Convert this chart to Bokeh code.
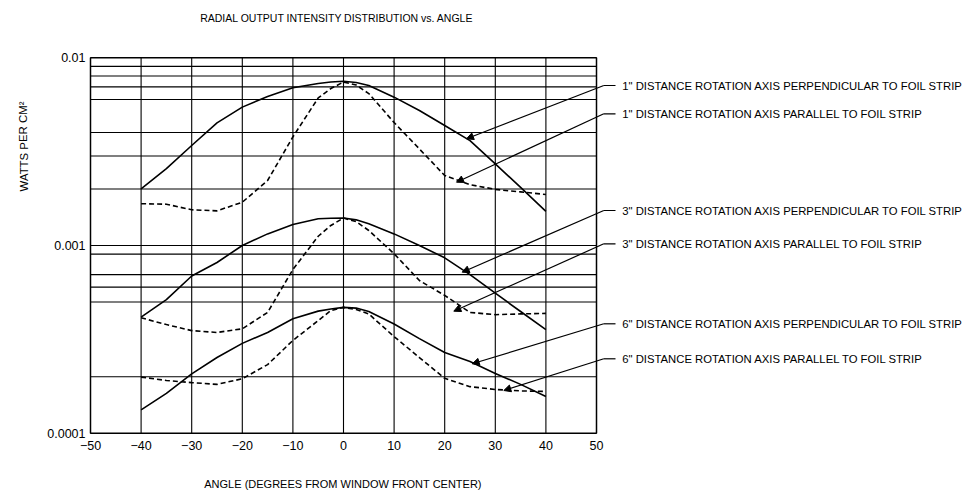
from bokeh.plotting import figure
from bokeh.models import Label, Arrow, NormalHead, Range1d
from bokeh.core.properties import value
from bokeh.embed import file_html
from bokeh.resources import INLINE

# ---------------- data ----------------
angles = [-40, -35, -30, -25, -20, -15, -10, -5, -2.5, 0, 2.5, 5, 10, 15, 20, 25, 30, 35, 40]

perp_1in = [0.00200, 0.00257, 0.00341, 0.00450, 0.00546, 0.00622, 0.00692, 0.00730, 0.00743, 0.00750,
            0.00739, 0.00712, 0.00617, 0.00524, 0.00436, 0.00362, 0.00272, 0.00204, 0.00152]
para_1in = [0.00167, 0.00166, 0.00155, 0.00153, 0.00170, 0.00222, 0.00379, 0.00611, 0.00686, 0.00743,
            0.00716, 0.00645, 0.00452, 0.00327, 0.00236, 0.00211, 0.00199, 0.00193, 0.00187]
perp_3in = [0.000415, 0.000515, 0.000688, 0.000812, 0.00100, 0.001153, 0.001294, 0.001388, 0.001396, 0.00140,
            0.00137, 0.001305, 0.001153, 0.00100, 0.000860, 0.000700, 0.000557, 0.000445, 0.000356]
para_3in = [0.000412, 0.000379, 0.000352, 0.000344, 0.000360, 0.000440, 0.000745, 0.00112, 0.001279, 0.00140,
            0.00134, 0.001202, 0.000904, 0.000651, 0.000542, 0.000440, 0.000428, 0.000432, 0.000435]
perp_6in = [0.000133, 0.000163, 0.000207, 0.000253, 0.000301, 0.000344, 0.000407, 0.000447, 0.000459, 0.000468,
            0.000464, 0.000445, 0.000382, 0.000319, 0.000269, 0.000241, 0.000208, 0.000182, 0.000157]
para_6in = [0.000199, 0.000191, 0.000186, 0.000182, 0.000195, 0.000232, 0.000312, 0.000398, 0.000450, 0.000468,
            0.000456, 0.000432, 0.000327, 0.000253, 0.000196, 0.000177, 0.000171, 0.000168, 0.000167]

x_ticks = [-50, -40, -30, -20, -10, 0, 10, 20, 30, 40, 50]
x_tick_labels = ["\u221250", "\u221240", "\u221230", "\u221220", "\u221210", "0", "10", "20", "30", "40", "50"]
y_ticks = [0.0001, 0.001, 0.01]
y_tick_labels = ["0.0001", "0.001", "0.01"]
y_grid = [0.0002, 0.0005, 0.0006, 0.0007, 0.0009, 0.001,
          0.002, 0.003, 0.004, 0.006, 0.007, 0.008, 0.009]

title_text = "RADIAL OUTPUT INTENSITY DISTRIBUTION vs. ANGLE"
x_label = "ANGLE (DEGREES FROM WINDOW FRONT CENTER)"
y_label = "WATTS PER CM\u00b2"
series_labels = [
    '1" DISTANCE ROTATION AXIS PERPENDICULAR TO FOIL STRIP',
    '1" DISTANCE ROTATION AXIS PARALLEL TO FOIL STRIP',
    '3" DISTANCE ROTATION AXIS PERPENDICULAR TO FOIL STRIP',
    '3" DISTANCE ROTATION AXIS PARALLEL TO FOIL STRIP',
    '6" DISTANCE ROTATION AXIS PERPENDICULAR TO FOIL STRIP',
    '6" DISTANCE ROTATION AXIS PARALLEL TO FOIL STRIP',
]

# ---------------- layout (pixels) ----------------
W, H = 967, 493
FX0, FX1 = 90.0, 596.0          # chart box left / right in canvas px
FY0, FY1 = 57.3, 432.7          # chart box top / bottom in canvas px
ppu = (FX1 - FX0) / (x_ticks[-1] - x_ticks[0])
ppd = (FY1 - FY0) / 2.0
x_lo = x_ticks[0] - FX0 / ppu
x_hi = x_ticks[-1] + (W - FX1) / ppu
y_hi = 10 ** (-2 + FY0 / ppd)
y_lo = 10 ** (-4 - (H - FY1) / ppd)

def yv(px):  # canvas px (from top) -> data value on the log axis
    return 10 ** (-2 - (px - FY0) / ppd)

def xv(px):
    return x_ticks[0] + (px - FX0) / ppu

FONT = "Liberation Sans"
p = figure(width=W, height=H, x_range=Range1d(x_lo, x_hi), y_range=Range1d(y_lo, y_hi),
           y_axis_type="log", x_axis_location=None, y_axis_location=None,
           min_border=0, output_backend="svg", toolbar_location=None,
           background_fill_color="white", border_fill_color="white")
p.outline_line_color = None
p.grid.visible = False

# grid lines
n = len(x_ticks) - 2
p.segment(x0=x_ticks[1:-1], y0=[y_ticks[0]] * n, x1=x_ticks[1:-1], y1=[y_ticks[-1]] * n,
          line_color="black", line_width=1.1)
m = len(y_grid)
p.segment(x0=[x_ticks[0]] * m, y0=y_grid, x1=[x_ticks[-1]] * m, y1=y_grid,
          line_color="black", line_width=1.1)
# frame
p.quad(left=x_ticks[0], right=x_ticks[-1], bottom=y_ticks[0], top=y_ticks[-1],
       fill_color=None, line_color="black", line_width=1.5)

# tick labels
p.text(x=x_ticks, y=[yv(FY1 + 12.5)] * len(x_ticks), text=x_tick_labels,
       text_font=value(FONT), text_font_size="12.5px", text_color="black",
       text_align="center", text_baseline="middle")
p.text(x=[xv(FX0 - 5)] * len(y_ticks), y=y_ticks, text=y_tick_labels,
       text_font=value(FONT), text_font_size="12.5px", text_color="black",
       text_align="right", text_baseline="middle")

# curves
solid = dict(line_color="black", line_width=1.6)
dashed = dict(line_color="black", line_width=1.6, line_dash="5 3")
p.line(angles, perp_1in, **solid)
p.line(angles, para_1in, **dashed)
p.line(angles, perp_3in, **solid)
p.line(angles, para_3in, **dashed)
p.line(angles, perp_6in, **solid)
p.line(angles, para_6in, **dashed)

# texts
txt = dict(text_font=FONT, text_color="black", text_baseline="middle")
p.add_layout(Label(x=xv(336.5), y=yv(17), text=title_text, text_align="center",
                   text_font_size="10.5px", **txt))
p.add_layout(Label(x=xv(342.5), y=yv(483), text=x_label, text_align="center",
                   text_font_size="11px", **txt))
p.add_layout(Label(x=xv(23), y=yv(146), text=y_label, text_align="center", angle=1.5708,
                   text_font_size="11.4px", **txt))

# leader annotations (reference px -> data units)
label_px_y = [85, 113.3, 210, 243.3, 323.3, 358.3]
tip_px = [(466, 138.3), (456, 181.7), (461.7, 271.7), (453.3, 310.7), (471.7, 363.3), (503.3, 390)]
lx0, lx1, tx0 = xv(603.3), xv(615), xv(621.7)
for text, ly_px, (tpx, tpy) in zip(series_labels, label_px_y, tip_px):
    ly = yv(ly_px)
    p.add_layout(Arrow(x_start=lx0, y_start=ly, x_end=lx1, y_end=ly, end=None,
                       line_color="black", line_width=1.2))
    p.add_layout(Arrow(x_start=lx0, y_start=ly, x_end=xv(tpx), y_end=yv(tpy),
                       end=NormalHead(size=7, fill_color="black", line_color="black", line_width=1),
                       line_color="black", line_width=1.2))
    p.add_layout(Label(x=tx0, y=ly, text=text, text_align="left", text_font_size="11.3px", **txt))

open("out.html", "w").write(file_html(p, INLINE))
